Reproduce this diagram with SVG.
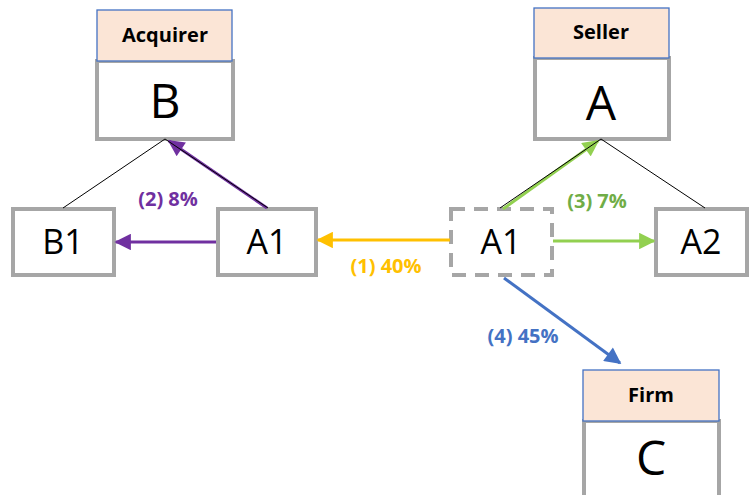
<svg xmlns="http://www.w3.org/2000/svg" width="749" height="495" viewBox="0 0 749 495">
  <style>
    .box { fill: #ffffff; stroke: #a6a6a6; stroke-width: 4; }
    .dash { fill: #ffffff; stroke: #a6a6a6; stroke-width: 4; stroke-dasharray: 14 9; }
    .tag { fill: #fbe5d6; stroke: #4472c4; stroke-width: 1.3; }
    .tagtxt { font-family: "Open Sans", "Liberation Sans", sans-serif; font-weight: bold; font-size: 20px; fill: #000; text-anchor: middle; }
    .big { font-family: "Open Sans", "Liberation Sans", sans-serif; font-size: 48px; fill: #000; text-anchor: middle; }
    .mid { font-family: "Open Sans", "Liberation Sans", sans-serif; font-size: 34px; fill: #000; text-anchor: middle; }
    .pct { font-family: "Open Sans", "Liberation Sans", sans-serif; font-weight: bold; font-size: 20px; text-anchor: middle; }
    .thin { stroke: #000; stroke-width: 1; fill: none; }
  </style>
  <defs>
    <marker id="hPurple" viewBox="0 0 10 10" refX="9" refY="5" markerWidth="6" markerHeight="5.5" orient="auto" markerUnits="strokeWidth">
      <path d="M0,0 L10,5 L0,10 z" fill="#7030a0"/>
    </marker>
    <marker id="hGreen" viewBox="0 0 10 10" refX="9" refY="5" markerWidth="6" markerHeight="5.5" orient="auto" markerUnits="strokeWidth">
      <path d="M0,0 L10,5 L0,10 z" fill="#92d050"/>
    </marker>
    <marker id="hYellow" viewBox="0 0 10 10" refX="9" refY="5" markerWidth="6" markerHeight="5.5" orient="auto" markerUnits="strokeWidth">
      <path d="M0,0 L10,5 L0,10 z" fill="#ffc000"/>
    </marker>
    <marker id="hBlue" viewBox="0 0 10 10" refX="9" refY="5" markerWidth="6" markerHeight="5.5" orient="auto" markerUnits="strokeWidth">
      <path d="M0,0 L10,5 L0,10 z" fill="#4472c4"/>
    </marker>
  </defs>

  <!-- Acquirer B -->
  <g id="node-B">
    <rect class="box" x="97" y="61" width="136" height="78"/>
    <rect class="tag" x="97" y="10" width="135" height="51"/>
    <text class="tagtxt" x="165" y="42">Acquirer</text>
    <text class="big" x="165" y="118">B</text>
  </g>

  <!-- Seller A -->
  <g id="node-A">
    <rect class="box" x="535" y="58" width="134" height="81"/>
    <rect class="tag" x="534" y="8" width="135" height="50"/>
    <text class="tagtxt" x="601" y="39">Seller</text>
    <text class="big" x="601" y="120">A</text>
  </g>

  <!-- Firm C -->
  <g id="node-C">
    <rect class="box" x="584" y="421" width="135" height="76"/>
    <rect class="tag" x="583" y="370" width="136" height="51"/>
    <text class="tagtxt" x="651" y="402">Firm</text>
    <text class="big" x="651" y="475">C</text>
  </g>

  <g id="node-B1">
    <rect class="box" x="13" y="209" width="101" height="66"/>
    <text class="mid" x="63" y="254">B1</text>
  </g>

  <g id="node-A1-acquired">
    <rect class="box" x="218" y="209" width="98" height="66"/>
    <text class="mid" x="267" y="254">A1</text>
  </g>

  <g id="node-A1-original">
    <rect class="dash" x="451" y="209" width="101" height="66"/>
    <text class="mid" x="501" y="254">A1</text>
  </g>

  <g id="node-A2">
    <rect class="box" x="656" y="209" width="91" height="66"/>
    <text class="mid" x="701" y="254">A2</text>
  </g>

  <g id="connectors">
    <!-- ownership lines -->
    <line class="thin" x1="165" y1="139" x2="63" y2="208"/>
    <line class="thin" x1="601" y1="139" x2="705" y2="208"/>

    <!-- (2) A1 moved under B -->
    <line x1="267" y1="208" x2="169" y2="141" stroke="#7030a0" stroke-width="3" marker-end="url(#hPurple)"/>
    <line class="thin" x1="268" y1="208" x2="165" y2="139"/>
    <line x1="216" y1="242" x2="116" y2="242" stroke="#7030a0" stroke-width="3" marker-end="url(#hPurple)"/>

    <!-- (3) A1 back to A -->
    <line x1="503" y1="209" x2="598" y2="141" stroke="#92d050" stroke-width="3" marker-end="url(#hGreen)"/>
    <line class="thin" x1="500" y1="208" x2="601" y2="139"/>
    <line x1="553" y1="241" x2="654" y2="241" stroke="#92d050" stroke-width="3" marker-end="url(#hGreen)"/>

    <!-- (1) A1 to acquirer -->
    <line x1="450" y1="240" x2="318" y2="240" stroke="#ffc000" stroke-width="3" marker-end="url(#hYellow)"/>

    <!-- (4) A1 to firm -->
    <line x1="504" y1="278" x2="620" y2="363" stroke="#4472c4" stroke-width="3" marker-end="url(#hBlue)"/>

    <text class="pct" x="168" y="206" fill="#7030a0">(2) 8%</text>
    <text class="pct" x="597" y="208" fill="#70ad47">(3) 7%</text>
    <text class="pct" x="386" y="273" fill="#ffc000">(1) 40%</text>
    <text class="pct" x="523" y="343" fill="#4472c4">(4) 45%</text>
  </g>
</svg>
